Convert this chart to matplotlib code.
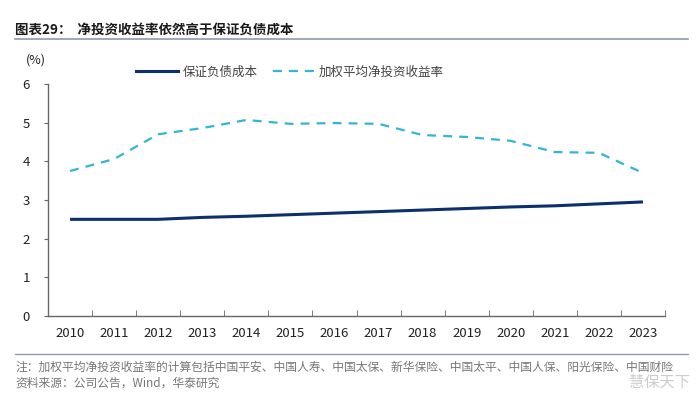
import matplotlib
matplotlib.use('Agg')
import matplotlib.pyplot as plt
from matplotlib.lines import Line2D

plt.rcParams['font.family'] = ['Noto Sans CJK SC', 'DejaVu Sans']

years = ['2010', '2011', '2012', '2013', '2014', '2015', '2016',
         '2017', '2018', '2019', '2020', '2021', '2022', '2023']
cost = [2.50, 2.50, 2.50, 2.55, 2.58, 2.62, 2.66,
        2.70, 2.74, 2.78, 2.82, 2.85, 2.90, 2.95]
yield_rate = [3.75, 4.06, 4.70, 4.86, 5.07, 4.97, 4.99,
              4.97, 4.68, 4.63, 4.53, 4.24, 4.22, 3.70]
name_cost = '保证负债成本'
name_yield = '加权平均净投资收益率'

fig = plt.figure(figsize=(7, 4), dpi=100)
ax = fig.add_axes([48/700, 1 - 316/400, (665 - 48)/700, (316 - 84)/400])

x = list(range(len(years)))
ax.plot(x, cost, color='#0c2f6e', lw=2.2, solid_capstyle='butt')
ax.plot(x, yield_rate, color='#2fb6d9', lw=1.6, dashes=(4, 3.2))

ax.set_xlim(-0.5, len(years) - 0.5)
ax.set_ylim(0, 6)
ax.set_yticks([0, 1, 2, 3, 4, 5, 6])
ax.set_xticks(x)
ax.set_xticklabels(years)
ax.set_xticks([i - 0.5 for i in range(len(years) + 1)], minor=True)
ax.tick_params(axis='x', which='major', length=0, pad=8, labelsize=9.5, colors='#222222')
ax.tick_params(axis='x', which='minor', length=4, direction='in', color='#666666')
ax.tick_params(axis='y', length=3, direction='out', color='#666666', labelsize=9.5, pad=10, colors='#222222')
ax.tick_params(axis='y', color='#666666')
for s in ['top', 'right']:
    ax.spines[s].set_visible(False)
for s in ['left', 'bottom']:
    ax.spines[s].set_color('#666666')
    ax.spines[s].set_linewidth(1.0)

fig.text(26/700, 1 - 60/400, '(%)', fontsize=9, color='#222222', va='center')

# legend
handles = [Line2D([0], [0], color='#0c2f6e', lw=2.2),
           Line2D([0], [0], color='#2fb6d9', lw=1.6, dashes=(4, 3.2))]
fig.legend(handles, [name_cost, name_yield], loc='center left',
           bbox_to_anchor=(125/700, 1 - 72/400), ncol=2, frameon=False,
           fontsize=9, handlelength=3.3, columnspacing=1.2, handletextpad=0.4,
           labelcolor='#444444')

# title and separator lines
fig.text(15/700, 1 - 30/400, '图表29：  净投资收益率依然高于保证负债成本',
         fontsize=9.7, fontweight='bold', color='#1a1a1a', va='center')
fig.add_artist(Line2D([15/700, 688/700], [1 - 39/400, 1 - 39/400], color='#8a9ab5', lw=1.2))
fig.add_artist(Line2D([15/700, 688/700], [1 - 354/400, 1 - 354/400], color='#8a9ab5', lw=1.0))

fig.text(15/700, 1 - 367/400,
         '注：加权平均净投资收益率的计算包括中国平安、中国人寿、中国太保、新华保险、中国太平、中国人保、阳光保险、中国财险',
         fontsize=8.5, color='#777777', va='center')
fig.text(15/700, 1 - 383/400, '资料来源：公司公告，Wind，华泰研究',
         fontsize=8.5, color='#777777', va='center')
fig.text(690/700, 1 - 382/400, '慧保天下', fontsize=11, color='#cccccc',
         ha='right', va='center')

fig.savefig('out.png', dpi=100)
